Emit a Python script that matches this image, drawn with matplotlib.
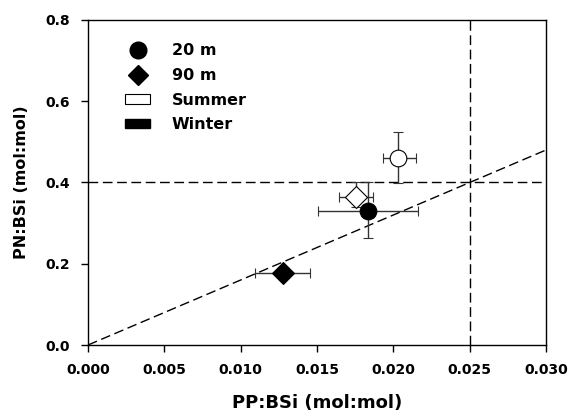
import matplotlib.pyplot as plt
from matplotlib.lines import Line2D
from matplotlib.patches import Patch

plt.rcParams['font.family'] = ['DejaVu Sans']
plt.rcParams['font.weight'] = 'bold'

# points: Summer 20 m, Summer 90 m, Winter 20 m, Winter 90 m
labels = ['Summer 20 m', 'Summer 90 m', 'Winter 20 m', 'Winter 90 m']
pp_bsi = [0.0203, 0.01755, 0.01834, 0.01277]
pn_bsi = [0.460, 0.364, 0.330, 0.177]
pp_err_lo = [0.0010, 0.0011, 0.0033, 0.0018]
pp_err_hi = [0.0012, 0.0011, 0.0033, 0.0018]
pn_err_lo = [0.061, 0.024, 0.067, 0.010]
pn_err_hi = [0.064, 0.036, 0.070, 0.010]
markers = ['o', 'D', 'o', 'D']
faces = ['white', 'white', 'black', 'black']
sizes = [12, 11, 12, 11]

# reference ratios
redfield_np = 16
ref_pn = 0.4
ref_pp = 0.025

dash = (0, (7, 3.3))

fig = plt.figure(figsize=(5.73, 4.19), dpi=100)
ax = fig.add_axes([0.1536, 0.1766, 0.7993, 0.7757])

ax.plot([0, 0.030], [0, 0.030 * redfield_np], ls=dash, color='black', lw=1)
ax.axhline(ref_pn, ls=dash, color='black', lw=1)
ax.axvline(ref_pp, ls=dash, color='black', lw=1)

for i in range(len(labels)):
    ax.errorbar(pp_bsi[i], pn_bsi[i],
                xerr=[[pp_err_lo[i]], [pp_err_hi[i]]],
                yerr=[[pn_err_lo[i]], [pn_err_hi[i]]],
                fmt=markers[i], ms=sizes[i], mfc=faces[i], mec='black', mew=0.8,
                ecolor='#333333', elinewidth=1, capsize=3.3, capthick=1, zorder=3)

ax.set_xlim(0, 0.030)
ax.set_ylim(0, 0.8)
ax.set_xticks([0, 0.005, 0.010, 0.015, 0.020, 0.025, 0.030])
ax.set_xticklabels(['0.000', '0.005', '0.010', '0.015', '0.020', '0.025', '0.030'])
ax.set_yticks([0, 0.2, 0.4, 0.6, 0.8])
ax.set_yticklabels(['0.0', '0.2', '0.4', '0.6', '0.8'])
ax.tick_params(direction='out', length=5, width=1, labelsize=10, pad=8)
for s in ax.spines.values():
    s.set_linewidth(1)

ax.set_xlabel('PP:BSi (mol:mol)', fontsize=13, fontweight='bold', labelpad=12)
ax.set_ylabel('PN:BSi (mol:mol)', fontsize=11.5, fontweight='bold', labelpad=12)

handles = [
    Line2D([], [], marker='o', ls='none', color='black', ms=12),
    Line2D([], [], marker='D', ls='none', color='black', ms=10),
    Patch(facecolor='white', edgecolor='black', lw=0.8),
    Patch(facecolor='black', edgecolor='black'),
]
ax.legend(handles, ['20 m', '90 m', 'Summer', 'Winter'], loc='upper left',
          frameon=False, fontsize=11.5, bbox_to_anchor=(0.05, 0.972),
          handlelength=1.55, handleheight=0.55, handletextpad=1.35, labelspacing=0.6)

plt.savefig('out.png', dpi=100)
